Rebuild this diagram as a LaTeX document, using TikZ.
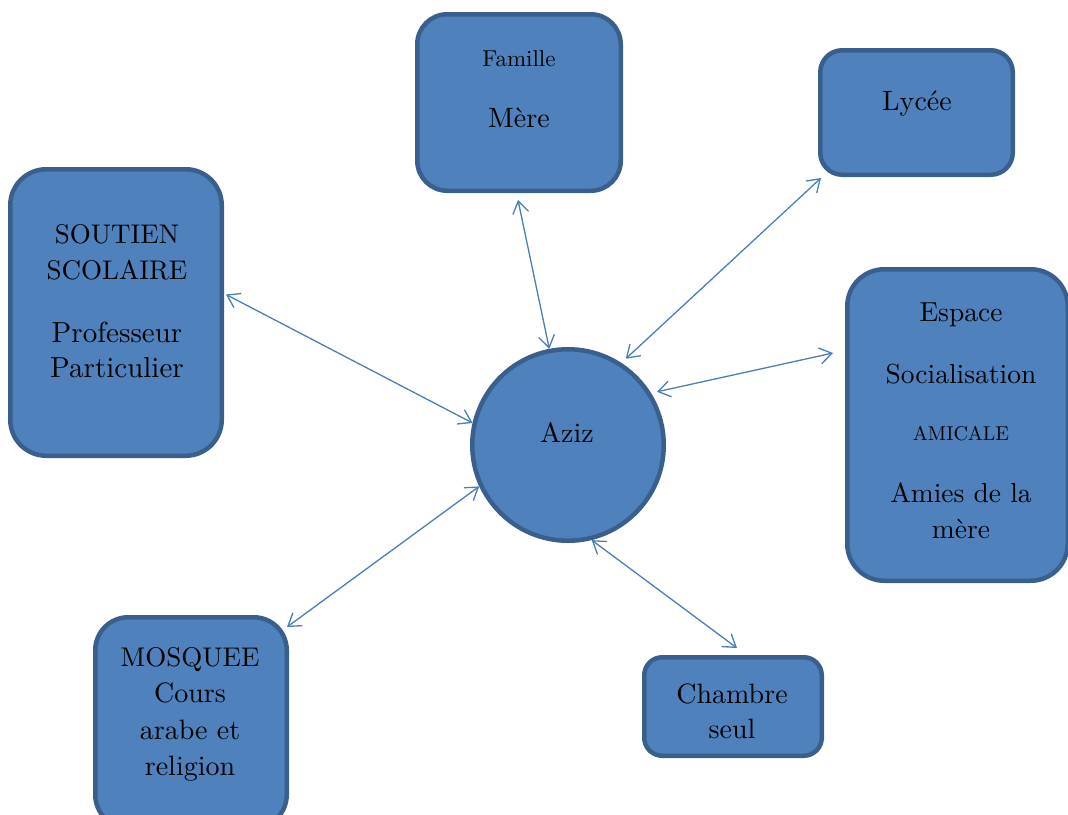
\documentclass[tikz,border=0pt]{standalone}
\usepackage{fontspec}
\setmainfont{lmroman10-regular.otf}
\usetikzlibrary{arrows.meta}
\definecolor{boxfill}{HTML}{4F81BD}
\definecolor{boxline}{HTML}{3A5F8C}
\definecolor{arrowcol}{HTML}{4A7EBB}
\newcommand{\fsz}[1]{\fontsize{#1}{#1}\selectfont}
\tikzset{
  rbox/.style={draw=boxline, fill=boxfill, line width=4.5pt, inner sep=0pt, rectangle},
  hub/.style={draw=boxline, fill=boxfill, line width=4.5pt, inner sep=0pt, circle, minimum size=191.5pt},
  txt/.style={anchor=base, inner sep=0pt, text=black},
  link/.style={draw=arrowcol, line width=1.3pt, {Straight Barb[length=12pt,width=16pt]}-{Straight Barb[length=12pt,width=16pt]}}
}
\begin{document}
\begin{tikzpicture}[x=1pt,y=-1pt]
\useasboundingbox (0,0) rectangle (1068,814);
\clip (0,0) rectangle (1068,814);
% boxes
\node[rbox, rounded corners=30pt, minimum width=203.5pt, minimum height=176.5pt] (famille) at (519,102.5) {};
\node[rbox, rounded corners=22pt, minimum width=192.5pt, minimum height=124.5pt] (lycee) at (916.5,112.5) {};
\node[rbox, rounded corners=36pt, minimum width=211.5pt, minimum height=286.5pt] (soutien) at (116,312.5) {};
\node[rbox, rounded corners=37pt, minimum width=220.5pt, minimum height=311.5pt] (espace) at (957.5,425) {};
\node[rbox, rounded corners=33pt, minimum width=191.5pt, minimum height=210.5pt] (mosquee) at (191,722.5) {};
\node[rbox, rounded corners=18pt, minimum width=177.5pt, minimum height=98.5pt] (chambre) at (733,706.5) {};
\node[hub] (aziz) at (568,445) {};
% texts
\node[txt, font=\fsz{23}] (t-famille) at (519,66) {Famille};
\node[txt, font=\fsz{28}] (t-mere) at (519,127) {Mère};
\node[txt, font=\fsz{28}] (t-lycee) at (917,110) {Lycée};
\node[txt, font=\fsz{27}] (t-soutien) at (117,243) {SOUTIEN};
\node[txt, font=\fsz{27}] (t-scolaire) at (117,279) {SCOLAIRE};
\node[txt, font=\fsz{29}] (t-prof) at (117,342) {Professeur};
\node[txt, font=\fsz{29}] (t-partic) at (117,377) {Particulier};
\node[txt, font=\fsz{27.5}] (t-espace) at (961,321) {Espace};
\node[txt, font=\fsz{27.5}] (t-social) at (961,383) {Socialisation};
\node[txt, font=\fsz{20}] (t-amicale) at (961,440) {AMICALE};
\node[txt, font=\fsz{27.5}] (t-amies) at (961,502) {Amies de la};
\node[txt, font=\fsz{27.5}] (t-merebis) at (961,538) {mère};
\node[txt, font=\fsz{28}] (t-aziz) at (567,442) {Aziz};
\node[txt, font=\fsz{27}] (t-mosquee) at (190,666) {MOSQUEE};
\node[txt, font=\fsz{28}] (t-cours) at (190,702) {Cours};
\node[txt, font=\fsz{28}] (t-arabe) at (190,739) {arabe et};
\node[txt, font=\fsz{28}] (t-religion) at (190,775) {religion};
\node[txt, font=\fsz{28}] (t-chambre) at (732,703) {Chambre};
\node[txt, font=\fsz{28}] (t-seul) at (732,738) {seul};
% connectors
\draw[link] ([shift={(-1pt,-7pt)}]famille.south) -- (aziz.101);
\draw[link, shorten >=6pt] ([shift={(3pt,-1pt)}]lycee.south west) -- (aziz.57);
\draw[link] ([shift={(2pt,18pt)}]soutien.east) -- (aziz.167);
\draw[link, shorten >=6pt] ([shift={(-12pt,72pt)}]espace.west) -- (aziz.32);
\draw[link] ([shift={(-2pt,-12pt)}]mosquee.north east) -- (aziz.205);
\draw[link] ([shift={(4pt,7pt)}]chambre.north) -- (aziz.284);
\end{tikzpicture}
\end{document}
